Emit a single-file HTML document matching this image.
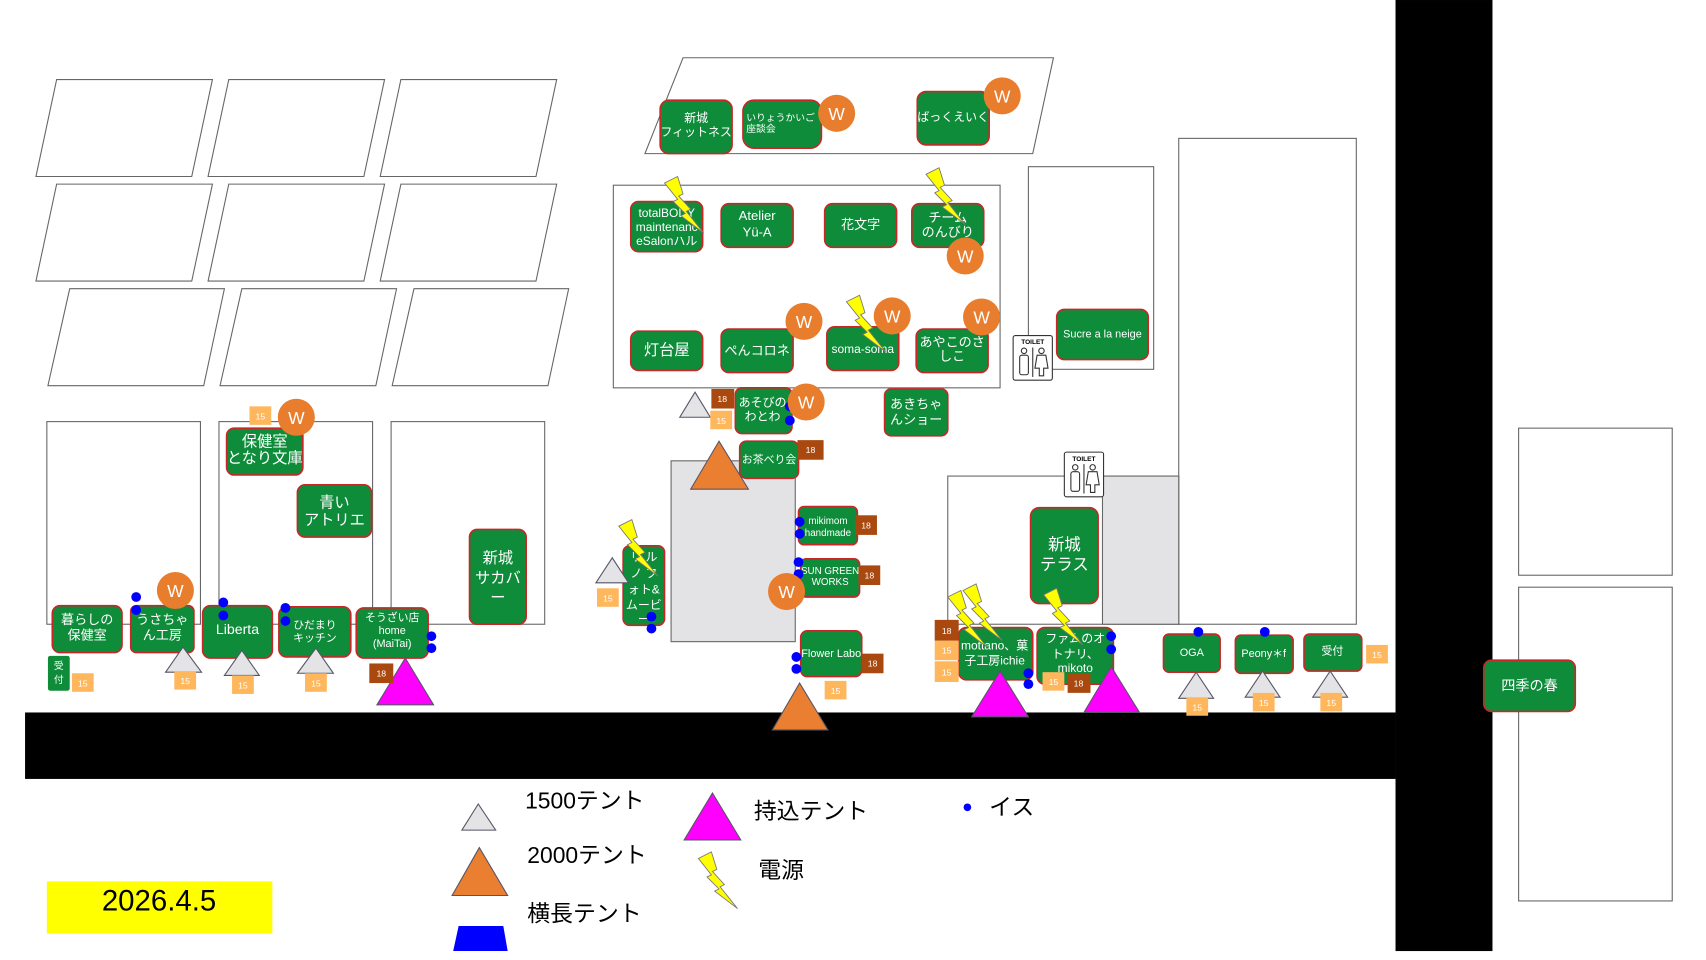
<!DOCTYPE html>
<html><head><meta charset="utf-8"><style>
html,body{margin:0;padding:0;background:#fff;}
svg{display:block;}
text{font-family:"Liberation Sans","Noto Sans CJK JP",sans-serif;}
</style></head><body>
<svg width="1706" height="960" viewBox="0 0 1566 881.2" xmlns="http://www.w3.org/2000/svg">
<defs>
<path id="bolt" d="M0,0 L12,-6 L17,10 L13,12 L24,24 L20,26 L36,46 L15,30 L19,28 L8,17 L12,15 Z" fill="#ffff00" stroke="#777" stroke-width="0.8"/>
<g id="toilet"><rect x="0" y="0" width="36" height="41" rx="2" fill="#fff" stroke="#333"/><text x="18" y="8" font-size="6" text-anchor="middle" font-weight="bold">TOILET</text><line x1="18" y1="11" x2="18" y2="38" stroke="#333"/><circle cx="10" cy="14" r="2.5" fill="none" stroke="#333"/><rect x="6" y="18" width="8" height="18" rx="2" fill="none" stroke="#333"/><circle cx="26" cy="14" r="2.5" fill="none" stroke="#333"/><path d="M22,18 L30,18 L32,30 L28,30 L28,37 L24,37 L24,30 L20,30 Z" fill="none" stroke="#333"/></g>
</defs>
<g fill="none" stroke="#666" stroke-width="1">
<polygon points="52,73 195,73 176,162 33,162"/><polygon points="210,73 353,73 334,162 191,162"/><polygon points="368,73 511,73 492,162 349,162"/>
<polygon points="52,169 195,169 176,258 33,258"/><polygon points="210,169 353,169 334,258 191,258"/><polygon points="368,169 511,169 492,258 349,258"/>
<polygon points="64,265 206,265 187,354 44,354"/><polygon points="222,265 364,265 345,354 202,354"/><polygon points="380,265 522,265 503,354 360,354"/>
<polygon points="627,53 967,53 948,141 592,141"/>
<rect x="563" y="170" width="355" height="186"/>
<rect x="944" y="153" width="115" height="186"/>
<rect x="1082" y="127" width="163" height="446"/>
<rect x="870" y="437" width="212" height="136"/>
<rect x="43" y="387" width="141" height="186"/><rect x="201" y="387" width="141" height="186"/><rect x="359" y="387" width="141" height="186"/>
<rect x="1394" y="393" width="141" height="135"/><rect x="1394" y="539" width="141" height="288"/>
</g>
<rect x="1012" y="437" width="70" height="136" fill="#e3e3e6" stroke="#666"/>
<rect x="616" y="423" width="114" height="166" fill="#e3e3e6" stroke="#666"/>
<rect x="23" y="654" width="1258" height="61" fill="#000"/>
<rect x="1281" y="0" width="89" height="873" fill="#000"/>

<g fill="#0e8c3a" stroke="#c62828" stroke-width="1.5">
<rect x="606" y="92" width="66" height="49" rx="8"/><rect x="682" y="92" width="72" height="44" rx="10"/><rect x="842" y="84" width="66" height="49" rx="8"/>
<rect x="579" y="185" width="66" height="46" rx="7"/><rect x="662" y="187" width="66" height="40" rx="7"/><rect x="757" y="187" width="66" height="40" rx="7"/><rect x="837" y="187" width="66" height="40" rx="7"/>
<rect x="579" y="304" width="66" height="36" rx="7"/><rect x="662" y="302" width="66" height="40" rx="7"/><rect x="759" y="300" width="66" height="40" rx="7"/><rect x="841" y="302" width="66" height="40" rx="7"/>
<rect x="970" y="284" width="84" height="46" rx="7"/>
<rect x="675" y="356" width="52" height="42" rx="6"/><rect x="812" y="357" width="58" height="43" rx="6"/><rect x="679" y="405" width="54" height="34" rx="6"/>
<rect x="208" y="393" width="70" height="43" rx="7"/><rect x="273" y="445" width="68" height="48" rx="7"/><rect x="431" y="486" width="52" height="87" rx="7"/>
<rect x="946" y="466" width="62" height="88" rx="8"/>
<rect x="733" y="465" width="54" height="35" rx="5"/><rect x="735" y="513" width="54" height="35" rx="5"/><rect x="572" y="501" width="38" height="73" rx="6"/><rect x="735" y="579" width="56" height="42" rx="6"/>
<rect x="48" y="556" width="64" height="43" rx="7"/><rect x="120" y="556" width="58" height="43" rx="5"/><rect x="186" y="556" width="64" height="48" rx="7"/><rect x="256" y="557" width="66" height="46" rx="7"/><rect x="327" y="558" width="66" height="46" rx="7"/>
<rect x="44" y="602" width="20" height="32" rx="2" stroke="none"/>
<rect x="880" y="576" width="68" height="48" rx="7"/><rect x="952" y="576" width="70" height="52" rx="7"/>
<rect x="1068" y="582" width="52" height="35" rx="5"/><rect x="1134" y="583" width="53" height="35" rx="5"/><rect x="1197" y="582" width="53" height="34" rx="5"/>
<rect x="1362" y="606" width="84" height="47" rx="7"/>
</g>

<g fill="#fff" text-anchor="middle" font-size="12">
<text x="639" y="112" font-size="11">新城</text><text x="639" y="125" font-size="11">フィットネス</text>
<text x="685" y="111" font-size="9" text-anchor="start">いりょうかいご</text><text x="685" y="121" font-size="9" text-anchor="start">座談会</text>
<text x="875" y="111" font-size="11">ばっくえいく</text>
<text x="612" y="199" font-size="11">totalBODY</text><text x="612" y="212" font-size="11">maintenanc</text><text x="612" y="225" font-size="11">eSalonハル</text>
<text x="695" y="202" font-size="12">Atelier</text><text x="695" y="217" font-size="12">Yü-A</text>
<text x="790" y="210">花文字</text>
<text x="870" y="204">チーム</text><text x="870" y="217">のんびり</text>
<text x="612" y="326" font-size="14">灯台屋</text>
<text x="695" y="326">ぺんコロネ</text>
<text x="792" y="324" font-size="11">soma-soma</text>
<text x="874" y="318">あやこのさ</text><text x="874" y="331">しこ</text>
<text x="1012" y="310" font-size="10">Sucre a la neige</text>
<text x="700" y="373" font-size="11">あそびの</text><text x="700" y="386" font-size="11">わとわ</text>
<text x="841" y="375">あきちゃ</text><text x="841" y="389">んショー</text>
<text x="706" y="425" font-size="10">お茶べり会</text>
<text x="243" y="410" font-size="14">保健室</text><text x="243" y="425" font-size="14">となり文庫</text>
<text x="307" y="466" font-size="14">青い</text><text x="307" y="482" font-size="14">アトリエ</text>
<text x="457" y="517" font-size="14">新城</text><text x="457" y="535" font-size="14">サカバ</text><text x="457" y="553" font-size="14">ー</text>
<text x="977" y="505" font-size="15">新城</text><text x="977" y="523" font-size="15">テラス</text>
<text x="760" y="481" font-size="9">mikimom</text><text x="760" y="492" font-size="9">handmade</text>
<text x="762" y="527" font-size="9">SUN GREEN</text><text x="762" y="537" font-size="9">WORKS</text>
<text x="591" y="515" font-size="11">リ ル</text><text x="591" y="530" font-size="11">ノ フ</text><text x="591" y="545" font-size="11">ォト&amp;</text><text x="591" y="559" font-size="11">ムービ</text><text x="591" y="572" font-size="11">ー</text>
<text x="763" y="603" font-size="10">Flower Labo</text>
<text x="80" y="573" font-size="12">暮らしの</text><text x="80" y="587" font-size="12">保健室</text>
<text x="149" y="573" font-size="12">うさちゃ</text><text x="149" y="587" font-size="12">ん工房</text>
<text x="218" y="582" font-size="13">Liberta</text>
<text x="289" y="577" font-size="10">ひだまり</text><text x="289" y="589" font-size="10">キッチン</text>
<text x="360" y="570" font-size="10">そうざい店</text><text x="360" y="582" font-size="10">home</text><text x="360" y="594" font-size="10">(MaiTai)</text>
<text x="54" y="614" font-size="9">受</text><text x="54" y="627" font-size="9">付</text>
<text x="913" y="596" font-size="11">mottano、菓</text><text x="913" y="610" font-size="11">子工房ichie</text>
<text x="987" y="590" font-size="11">ファムのオ</text><text x="987" y="604" font-size="11">トナリ、</text><text x="987" y="617" font-size="11">mikoto</text>
<text x="1094" y="602" font-size="10">OGA</text>
<text x="1160" y="603" font-size="10">Peony＊f</text>
<text x="1223" y="601" font-size="10">受付</text>
<text x="1404" y="634" font-size="13">四季の春</text>
</g>

<g fill="#e4e4e6" stroke="#556" stroke-width="1">
<polygon points="168,594 152,617 185,617"/><polygon points="222,597 206,620 238,620"/><polygon points="290,595 273,618 306,618"/>
<polygon points="638,360 624,383 652,383"/><polygon points="562,512 547,535 577,535"/>
<polygon points="1098,617 1082,641 1114,641"/><polygon points="1159,616 1143,640 1175,640"/><polygon points="1221,616 1205,640 1237,640"/>
<polygon points="439,738 424,762 455,762"/>
</g>
<g fill="#ea7f32" stroke="#556" stroke-width="1">
<polygon points="660,405 634,449 687,449"/><polygon points="734,627 709,670 760,670"/><polygon points="440,778 415,822 466,822"/>
</g>
<g fill="#ff00ff" stroke="#556" stroke-width="1">
<polygon points="372,604 346,647 398,647"/><polygon points="918,616 892,658 944,658"/><polygon points="1020,612 995,654 1046,654"/><polygon points="654,728 628,771 680,771"/>
</g>
<polygon points="421,850 462,850 466,873 416,873" fill="#0000ff"/>

<g font-size="8" text-anchor="middle" fill="#fff">
<g fill="#ffb75e">
<rect x="229" y="373" width="20" height="17"/><rect x="66" y="618" width="20" height="17"/><rect x="160" y="616" width="20" height="17"/><rect x="213" y="620" width="20" height="17"/><rect x="280" y="618" width="20" height="17"/>
<rect x="652" y="377" width="20" height="17"/><rect x="548" y="540" width="20" height="17"/><rect x="757" y="625" width="20" height="17"/><rect x="858" y="588" width="22" height="18"/><rect x="858" y="607" width="22" height="19"/><rect x="957" y="617" width="20" height="17"/>
<rect x="1089" y="640" width="20" height="17"/><rect x="1150" y="636" width="20" height="17"/><rect x="1212" y="636" width="20" height="17"/><rect x="1254" y="592" width="20" height="17"/>
</g>
<text x="239" y="385">15</text><text x="76" y="630">15</text><text x="170" y="628">15</text><text x="223" y="632">15</text><text x="290" y="630">15</text>
<text x="662" y="389">15</text><text x="558" y="552">15</text><text x="767" y="637">15</text><text x="869" y="600">15</text><text x="869" y="620">15</text><text x="967" y="629">15</text>
<text x="1099" y="652">15</text><text x="1160" y="648">15</text><text x="1222" y="648">15</text><text x="1264" y="604">15</text>
<g fill="#a9490f">
<rect x="653" y="357" width="21" height="18"/><rect x="732" y="404" width="24" height="18"/><rect x="785" y="473" width="20" height="18"/><rect x="788" y="519" width="20" height="18"/><rect x="791" y="600" width="20" height="18"/><rect x="339" y="609" width="22" height="18"/><rect x="858" y="569" width="22" height="19"/><rect x="980" y="618" width="21" height="18"/>
</g>
<text x="663" y="369">18</text><text x="744" y="416">18</text><text x="795" y="485">18</text><text x="798" y="531">18</text><text x="801" y="612">18</text><text x="350" y="621">18</text><text x="869" y="582">18</text><text x="990" y="630">18</text>
</g>

<g fill="#0000ff">
<circle cx="125" cy="548" r="4.5"/><circle cx="125" cy="560" r="4.5"/><circle cx="205" cy="553" r="4.5"/><circle cx="205" cy="565" r="4.5"/><circle cx="262" cy="558" r="4.5"/><circle cx="262" cy="570" r="4.5"/>
<circle cx="396" cy="584" r="4.5"/><circle cx="396" cy="595" r="4.5"/><circle cx="725" cy="373" r="4.5"/><circle cx="725" cy="386" r="4.5"/>
<circle cx="598" cy="566" r="4.5"/><circle cx="598" cy="577" r="4.5"/><circle cx="734" cy="479" r="4.5"/><circle cx="734" cy="490" r="4.5"/>
<circle cx="733" cy="516" r="4.5"/><circle cx="733" cy="527" r="4.5"/><circle cx="731" cy="603" r="4.5"/><circle cx="731" cy="614" r="4.5"/>
<circle cx="1020" cy="584" r="4.5"/><circle cx="1020" cy="596" r="4.5"/><circle cx="944" cy="618" r="4.5"/><circle cx="944" cy="628" r="4.5"/>
<circle cx="1100" cy="580" r="4.5"/><circle cx="1161" cy="580" r="4.5"/><circle cx="888" cy="741" r="3.5"/>
</g>

<g fill="#e87d2e">
<circle cx="768" cy="104" r="17"/><circle cx="920" cy="88" r="17"/><circle cx="886" cy="235" r="17"/><circle cx="738" cy="295" r="17"/><circle cx="819" cy="290" r="17"/><circle cx="901" cy="291" r="17"/><circle cx="740" cy="369" r="17"/><circle cx="272" cy="383" r="17"/><circle cx="161" cy="542" r="17"/><circle cx="722" cy="543" r="17"/>
</g>
<g fill="#fff" font-size="16" text-anchor="middle">
<text x="768" y="110">W</text><text x="920" y="94">W</text><text x="886" y="241">W</text><text x="738" y="301">W</text><text x="819" y="296">W</text><text x="901" y="297">W</text><text x="740" y="375">W</text><text x="272" y="389">W</text><text x="161" y="548">W</text><text x="722" y="549">W</text>
</g>

<use href="#bolt" transform="translate(610,168)"/>
<use href="#bolt" transform="translate(850,160)"/>
<use href="#bolt" transform="translate(777,277)"/>
<use href="#bolt" transform="translate(568,483)"/>
<use href="#bolt" transform="translate(870,548)"/>
<use href="#bolt" transform="translate(884,542)"/>
<use href="#bolt" transform="translate(958,546)"/>
<use href="#bolt" transform="translate(641,788)"/>

<use href="#toilet" transform="translate(930,308)"/>
<use href="#toilet" transform="translate(977,415)"/>

<g fill="#000" font-size="21">
<text x="482" y="742">1500テント</text><text x="484" y="792">2000テント</text><text x="484" y="846">横長テント</text>
<text x="692" y="752">持込テント</text><text x="696" y="806">電源</text><text x="908" y="748">イス</text>
</g>
<rect x="43" y="809" width="207" height="48" fill="#ffff00"/>
<text x="146" y="836" font-size="27" text-anchor="middle" fill="#000">2026.4.5</text>
</svg>
</body></html>
